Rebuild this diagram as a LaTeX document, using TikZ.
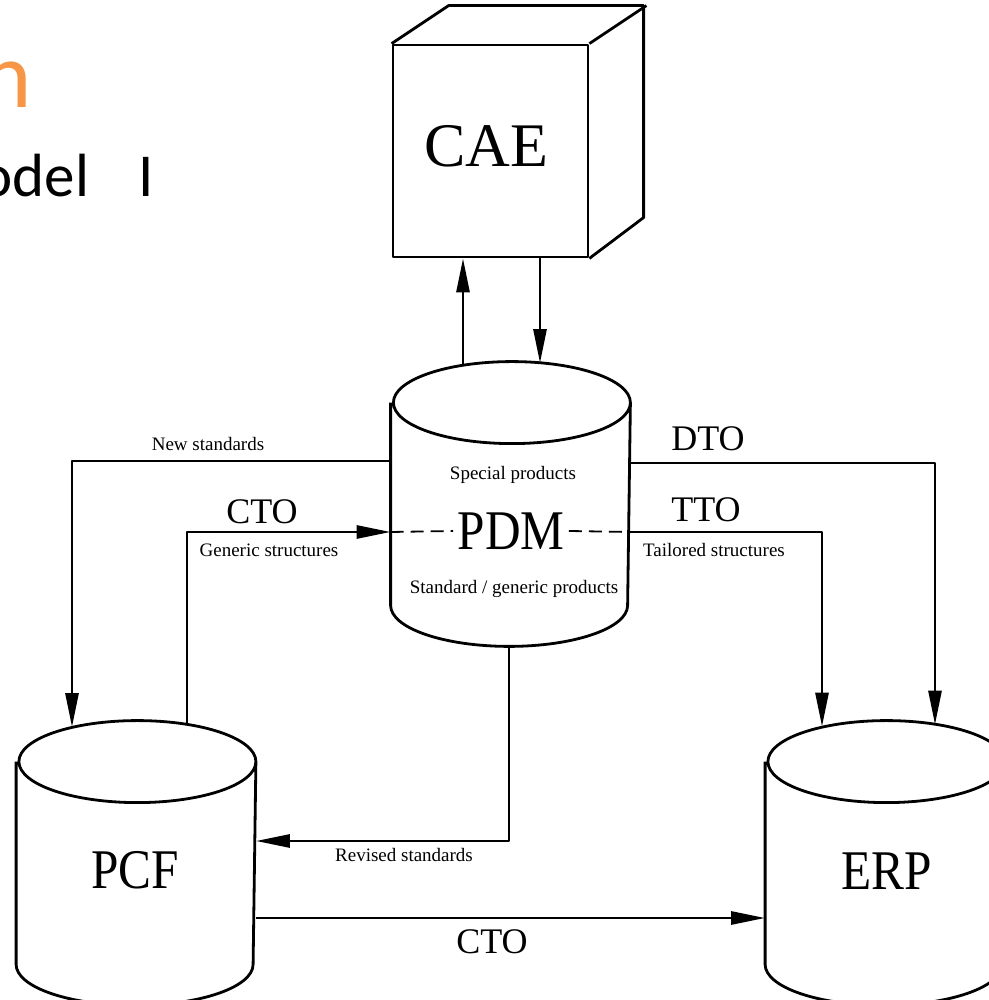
\documentclass[tikz,border=0pt]{standalone}
\usepackage{fontspec}
\setmainfont{Liberation Serif}
\newfontfamily\slidefont{Carlito}
\newfontfamily\narrowserif[FakeStretch=0.88]{Liberation Serif}
\usetikzlibrary{arrows.meta}
\definecolor{slideorange}{RGB}{247,150,70}
% outline of a database drum round a node
\newcommand\drumoutline[1]{%
	\draw ([yshift=-41pt]#1.north west) -- ([yshift=41pt]#1.south west)
		arc[start angle=180,end angle=360,x radius=118.5pt,y radius=41pt]
		-- ([yshift=-41pt]#1.north east)
		arc[start angle=0,end angle=180,x radius=118.5pt,y radius=41pt]
		arc[start angle=180,end angle=360,x radius=118.5pt,y radius=41pt];}

\begin{document}
\begin{tikzpicture}[x=1pt,y=1pt,line width=2.8pt,line join=round,
	drum/.style={minimum width=237pt,minimum height=282pt,inner sep=0pt},
	flow/.style={-{Triangle[length=34pt,width=13pt]}},
	smalltxt/.style={font=\fontsize{19}{21}\selectfont,inner sep=0pt,anchor=base},
	bigtxt/.style={font=\fontsize{36}{40}\selectfont,inner sep=0pt},
	dbtxt/.style={font=\narrowserif\fontsize{56}{60}\selectfont,inner sep=3pt}]
	\useasboundingbox (0,0) rectangle (988,1000);
	% what is left of the slide title
	\node[font=\slidefont\fontsize{94}{96}\selectfont,text=slideorange,anchor=base east,inner sep=0pt] (heading) at (33,892) {n};
	\node[font=\slidefont\fontsize{61}{64}\selectfont,anchor=base east,inner sep=0pt] (subheading) at (155,803) {model\hspace{49pt}I};

	% CAE cube
	\node[draw,minimum width=195pt,minimum height=212pt] (cae) at (490.5,849) {};
	\node[font=\fontsize{62}{64}\selectfont,inner sep=0pt] (caename) at (486,854) {CAE};
	\draw (cae.north west) -- ++(57,38) -- ++(195,0) -- ++(0,-212) -- (cae.south east);
	\draw (cae.north east) -- ++(57,38);

	% the three databases
	\node[drum] (pdm) at (510.5,496) {};
	\node[drum] (pcf) at (136,137) {};
	\node[drum] (erp) at (885,137) {};
	\drumoutline{pdm}
	\drumoutline{pcf}
	\drumoutline{erp}
	\node[dbtxt] (pdmname) at (511,469) {PDM};
	\node[dbtxt] (pcfname) at (135,130) {PCF};
	\node[dbtxt] (erpname) at (887,129) {ERP};
	\node[smalltxt] (special) at (513,520) {Special products};
	\node[smalltxt] (standard) at (514,406) {Standard / generic products};

	% PDM <-> CAE
	\draw[flow] ([xshift=-47.5pt,yshift=-3.5pt]pdm.north) -- ([xshift=-27.5pt]cae.south);
	\draw[flow] ([xshift=49.5pt]cae.south) -- ([xshift=29.5pt,yshift=-1.5pt]pdm.north);

	% PDM -> PCF and back
	\draw[flow] ([yshift=43pt]pdm.west) -| ([xshift=-64pt,yshift=-6.5pt]pcf.north);
	\draw[flow] ([xshift=51pt,yshift=-4pt]pcf.north) |- ([yshift=-28pt]pdm.west);
	\draw[flow] ([xshift=-1.5pt]pdm.south) |- ([yshift=22pt]pcf.east);
	\draw[line width=1.8pt,dash pattern=on 13pt off 7pt] ([yshift=-28pt]pdm.west) -- (pdmname.west);
	\draw[line width=1.8pt,dash pattern=on 13pt off 7pt] (pdmname.east) -- ([yshift=-28pt]pdm.east);
	\node[smalltxt] (newstd) at (208,549) {New standards};
	\node[bigtxt] (ctoleft) at (262,488) {CTO};
	\node[smalltxt] (generic) at (269,443) {Generic structures};
	\node[smalltxt] (revised) at (404,138) {Revised standards};

	% PDM -> ERP
	\draw[flow] ([yshift=41pt]pdm.east) -| ([xshift=50pt,yshift=-4pt]erp.north);
	\draw[flow] ([yshift=-28pt]pdm.east) -| ([xshift=-63pt,yshift=-6pt]erp.north);
	\node[bigtxt] (dto) at (708,561) {DTO};
	\node[bigtxt] (tto) at (706,490) {TTO};
	\node[smalltxt] (tailored) at (714,443) {Tailored structures};

	% PCF -> ERP
	\draw[flow] ([yshift=-55pt]pcf.east) -- ([yshift=-55pt]erp.west);
	\node[bigtxt] (ctobottom) at (492,58) {CTO};
\end{tikzpicture}
\end{document}
